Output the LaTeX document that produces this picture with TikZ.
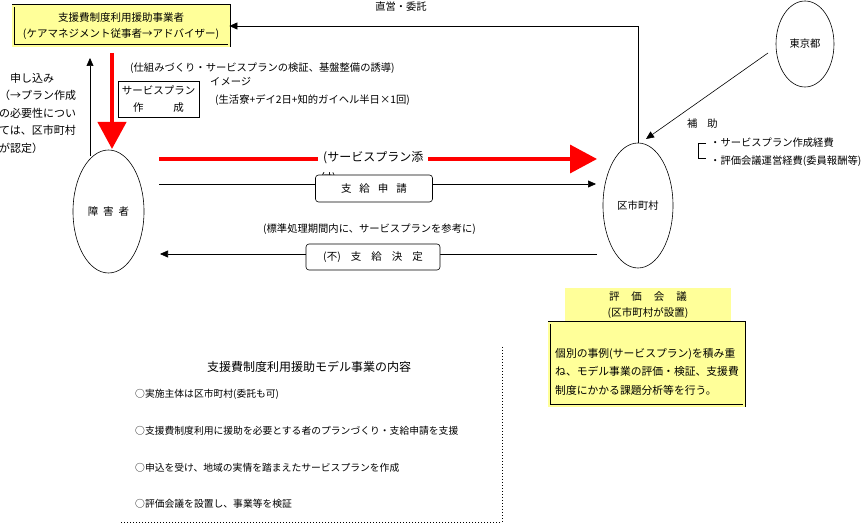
\documentclass[tikz,border=0pt]{standalone}
\usepackage{fontspec}
\setmainfont{Noto Sans CJK JP}
\usetikzlibrary{arrows.meta,shapes.geometric}
\definecolor{pale}{HTML}{FFFF99}
\definecolor{rd}{HTML}{FF0000}
\newcommand\jfs[2]{\fontsize{#1}{#2}\selectfont}
\begin{document}
\begin{tikzpicture}[x=1pt,y=-1pt,
 txt/.style={inner sep=0pt, font=\jfs{10.3}{17}},
 dbox/.style={draw, line width=0.7pt, double=pale, double distance=1.6pt, fill=pale, inner sep=0pt, align=center},
 plainbox/.style={draw, line width=0.6pt, inner sep=0pt, align=center},
 rbox/.style={draw, line width=0.6pt, rounded corners=3pt, fill=white, inner sep=0pt},
 oval/.style={draw, ellipse, line width=0.6pt, inner sep=0pt},
 conn/.style={line width=0.6pt},
 blkarr/.style={conn, -{Triangle[length=8pt,width=7pt]}},
 redarr/.style={color=rd, -{Triangle[length=27pt,width=28pt]}},
 dots/.style={line width=0.8pt, dash pattern=on 0.8pt off 2.2pt},
]
\useasboundingbox (0,0) rectangle (868,526);

% main nodes
\node[dbox, minimum width=216pt, minimum height=40pt, font=\jfs{10.5}{16.5}] (jigyo) at (121,26) {支援費制度利用援助事業者\\(ケアマネジメント従事者→アドバイザー)};
\node[oval, minimum width=71pt, minimum height=123pt, font=\jfs{10.5}{12}] (sho) at (108.5,211.5) {障\hspace{5pt}害\hspace{5pt}者};
\node[oval, minimum width=70pt, minimum height=125pt, font=\jfs{10.3}{12}] (kuch) at (638,205.5) {区市町村};
\node[oval, minimum width=58pt, minimum height=86pt, font=\jfs{10.3}{12}] (tokyo) at (805,44) {東京都};

% direct management / commission
\draw[blkarr] (kuch.north) |- (jigyo.east);
\node[txt] (chokuei) at (401,7) {直営・委託};

% left text
\node[txt, anchor=west, font=\jfs{11}{17.5}, align=left] (moushi) at (-1,113) {　申し込み\\（→プラン作成\\の必要性につい\\ては、区市町村\\が認定）};

% vertical arrows
\coordinate (upS) at (90,156);
\coordinate (upE) at (90,58);
\draw[blkarr] (upS) -- (upE);
\coordinate (rdS) at (112,53);
\coordinate (rdE) at (112,149);
\draw[redarr, line width=4.3pt] (rdS) -- (rdE);

\node[plainbox, minimum width=81pt, minimum height=36pt, font=\jfs{10.5}{17}] (plan) at (158.5,99) {サービスプラン\\作\hspace{30pt}成};
\node[txt, anchor=west] (shikumi) at (130,68) {(仕組みづくり・サービスプランの検証、基盤整備の誘導)};
\node[txt, anchor=west] (image) at (210,82) {イメージ};
\node[txt, anchor=west] (seikatsu) at (215,100) {(生活寮+デイ2日+知的ガイヘル半日×1回)};

% red horizontal arrow
\coordinate (rhS) at (159,159);
\coordinate (rhE) at (597,159);
\draw[redarr, line width=3.5pt] (rhS) -- (rhE);
\node[txt, anchor=north west, font=\jfs{12}{14}] (tsuke) at (320,172) {付)};
\node[txt, anchor=west, fill=white, inner xsep=5pt, inner ysep=1pt, font=\jfs{12}{14}] (tenpu) at (318,158) {(サービスプラン添};

% application
\coordinate (bS) at (159,184);
\coordinate (bE) at (596,184);
\draw[blkarr] (bS) -- (bE);
\node[rbox, minimum width=117pt, minimum height=27pt, font=\jfs{10.5}{12}] (shinsei) at (374,188.5) {支\hspace{8pt}給\hspace{8pt}申\hspace{8pt}請};

% decision
\node[txt, anchor=west] (hyojun) at (263,229) {(標準処理期間内に、サービスプランを参考に)};
\coordinate (kS) at (597,254);
\coordinate (kE) at (160,254);
\draw[blkarr] (kS) -- (kE);
\node[rbox, minimum width=134pt, minimum height=26pt, font=\jfs{10.5}{12}] (kettei) at (373,257) {(不)\hspace{10pt}支\hspace{10pt}給\hspace{10pt}決\hspace{10pt}定};

% Tokyo subsidy
\coordinate (tkS) at (768,53);
\coordinate (tkE) at (646,139);
\draw[blkarr] (tkS) -- (tkE);
\node[txt, anchor=west] (hojo) at (687,124) {補\hspace{10pt}助};
\coordinate (brA) at (706,143);
\coordinate (brB) at (698,143);
\coordinate (brC) at (698,158);
\coordinate (brD) at (706,158);
\draw[conn] (brA) -- (brB) -- (brC) -- (brD);
\node[txt, anchor=west] (keihi1) at (710,143) {・サービスプラン作成経費};
\node[txt, anchor=west] (keihi2) at (710,161) {・評価会議運営経費(委員報酬等)};

% evaluation committee
\node[fill=pale, minimum width=166pt, minimum height=35pt, inner sep=0pt, align=center, font=\jfs{10.5}{16}] (hyoka) at (648,305.5) {評\hspace{12pt}価\hspace{12pt}会\hspace{12pt}議\\(区市町村が設置)};
\node[dbox, minimum width=195pt, minimum height=83pt] (hbody) at (646.5,364.5) {};
\node[txt, anchor=west, align=left, font=\jfs{10.8}{18.5}] (hbtext) at (555,371.5) {個別の事例(サービスプラン)を積み重\\ね、モデル事業の評価・検証、支援費\\制度にかかる課題分析等を行う。};

% bottom contents
\node[txt, anchor=west, font=\jfs{12}{14}] (naiyo) at (207,367) {支援費制度利用援助モデル事業の内容};
\node[txt, anchor=west, font=\jfs{9.8}{12}] (item1) at (135,394) {○実施主体は区市町村(委託も可)};
\node[txt, anchor=west, font=\jfs{9.8}{12}] (item2) at (135,431) {○支援費制度利用に援助を必要とする者のプランづくり・支給申請を支援};
\node[txt, anchor=west, font=\jfs{9.8}{12}] (item3) at (135,468) {○申込を受け、地域の実情を踏まえたサービスプランを作成};
\node[txt, anchor=west, font=\jfs{9.8}{12}] (item4) at (135,504) {○評価会議を設置し、事業等を検証};
\coordinate (dA) at (502,347);
\coordinate (dB) at (502,522);
\coordinate (dC) at (120,522);
\draw[dots] (dA) -- (dB) -- (dC);
\end{tikzpicture}
\end{document}
